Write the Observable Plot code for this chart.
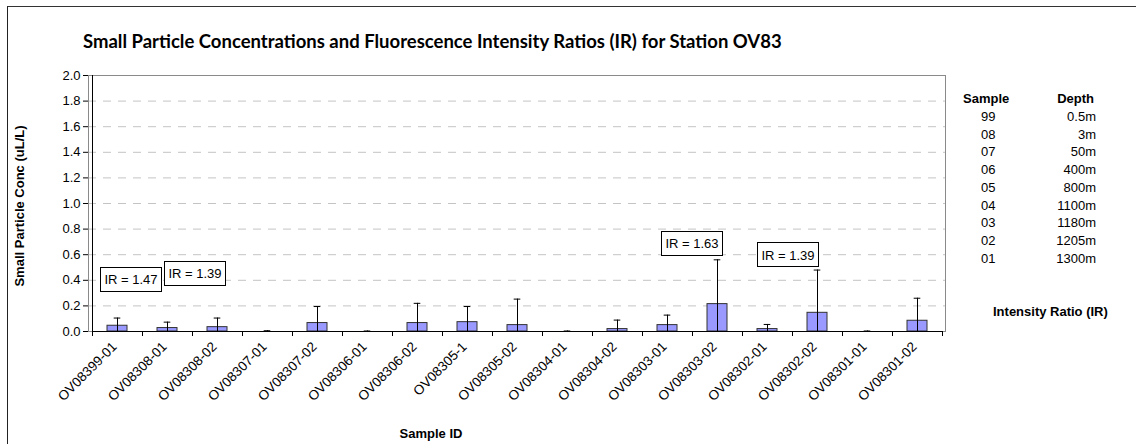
<!DOCTYPE html>
<html><head><meta charset="utf-8">
<script src="https://cdn.jsdelivr.net/npm/d3@7"></script>
<script src="https://cdn.jsdelivr.net/npm/@observablehq/plot@0.6"></script>
<style>
body{margin:0;background:#fff;font-family:"Liberation Sans",Arial,sans-serif;color:#000;}
#wrap{position:relative;width:1136px;height:444px;overflow:hidden;background:#fff;}
#wrap svg{position:absolute;left:0;top:0;}
.abs{position:absolute;white-space:nowrap;line-height:1;}
#frame{position:absolute;left:7px;top:6px;width:1200px;height:600px;border-left:1.5px solid #222;border-top:1.5px solid #333;}
</style></head><body><div id="wrap"><div id="frame"></div></div>
<script>
// ---- data ----
const samples = ["OV08399-01","OV08308-01","OV08308-02","OV08307-01","OV08307-02","OV08306-01","OV08306-02","OV08305-1","OV08305-02","OV08304-01","OV08304-02","OV08303-01","OV08303-02","OV08302-01","OV08302-02","OV08301-01","OV08301-02"];
const conc   = [0.045,0.027,0.034,0.000,0.066,0.000,0.066,0.073,0.050,0.000,0.019,0.050,0.214,0.019,0.146,0.000,0.084];
const errs   = [0.060,0.046,0.071,0.006,0.129,0.004,0.154,0.122,0.203,0.004,0.070,0.078,0.346,0.036,0.334,0.004,0.176];
const yTicks = [0,0.2,0.4,0.6,0.8,1.0,1.2,1.4,1.6,1.8,2.0];
const irSamples = ["OV08399-01","OV08308-01","OV08303-02","OV08302-02"];
const irValues  = [1.47,1.39,1.63,1.39];
const irLevels  = [0.40,0.446,0.685,0.594];
const legendCodes  = ["99","08","07","06","05","04","03","02","01"];
const legendDepths = ["0.5m","3m","50m","400m","800m","1100m","1180m","1205m","1300m"];
const titleText = "Small Particle Concentrations and Fluorescence Intensity Ratios (IR) for Station OV83";
const yTitle = "Small Particle Conc  (uL/L)";
const xTitle = "Sample ID";

const data = samples.map((s,i)=>({sample:s, conc:conc[i], err:errs[i]}));
const irOffsets = [14, 28, -25, -29];
const irData = irSamples.map((s,i)=>({sample:s, label:"IR = "+irValues[i].toFixed(2), level:irLevels[i], off:irOffsets[i]}));

const FONT = "'Liberation Sans', Arial, sans-serif";
const cnv = document.createElement("canvas").getContext("2d");

function getScales(a,b){ return (a && typeof a.x === "function") ? a : b; }

function decor(index, scales, values, dims){
  const sc = getScales(index, scales) || scales;
  const {x, y} = sc;
  const bw = x(samples[1]) - x(samples[0]);
  const g = d3.create("svg:g").attr("stroke","#000").attr("stroke-width",1).attr("shape-rendering","crispEdges");
  const y0 = y(0), yTop = y(2);
  const xl = x(samples[0]);
  const xr = x(samples[samples.length-1]) + bw;
  g.append("line").attr("x1",xl).attr("x2",xl).attr("y1",yTop).attr("y2",y0);
  g.append("line").attr("x1",xl).attr("x2",xr).attr("y1",y0).attr("y2",y0);
  for(let i=0;i<=samples.length;i++){
    const bx = i<samples.length ? x(samples[i]) : xr;
    g.append("line").attr("x1",bx).attr("x2",bx).attr("y1",y0).attr("y2",y0+5);
  }
  return g.node();
}

function irBoxes(index, scales, values, dims){
  const sc = getScales(index, scales) || scales;
  const {x, y} = sc;
  const bw = x(samples[1]) - x(samples[0]);
  const g = d3.create("svg:g");
  cnv.font = "13px " + FONT;
  for(const d of irData){
    const cx = x(d.sample) + bw/2 + d.off;
    const cy = y(d.level);
    const w = cnv.measureText(d.label).width + 8;
    const h = 24;
    g.append("rect").attr("x",cx-w/2).attr("y",cy-h/2).attr("width",w).attr("height",h)
      .attr("fill","#fff").attr("stroke","#000").attr("stroke-width",1).attr("shape-rendering","crispEdges");
    g.append("text").attr("x",cx).attr("y",cy).attr("dy","0.35em").attr("text-anchor","middle")
      .attr("font-size",13).attr("font-family",FONT).attr("fill","#000").text(d.label);
  }
  return g.node();
}

const plot = Plot.plot({
  width: 1136, height: 444,
  marginLeft: 88, marginRight: 191, marginTop: 75, marginBottom: 113,
  style: {fontFamily: FONT, fontSize: "13px", color: "#000", background: "transparent", overflow: "visible"},
  x: {domain: samples, padding: 0, label: null},
  y: {domain: [0, 2], label: null},
  marks: [
    Plot.gridY(yTicks.filter(d => d > 0 && d < 2), {stroke: "#c4c4c4", strokeOpacity: 1, strokeDasharray: "8,7"}),
    Plot.frame({stroke: "#8a8a8a"}),
    Plot.barY(data.filter(d => d.conc > 0), {x: "sample", y: "conc", fill: "#9999ff", stroke: "#333", strokeWidth: 1, insetLeft: 15, insetRight: 15}),
    Plot.ruleX(data, {x: "sample", y1: d => Math.max(0, d.conc - d.err), y2: d => d.conc + d.err, stroke: "#000", strokeWidth: 1}),
    Plot.tickY(data, {x: "sample", y: d => d.conc + d.err, stroke: "#000", strokeWidth: 1, insetLeft: 21.7, insetRight: 21.7}),
    decor,
    Plot.axisY({ticks: yTicks, tickSize: 5, tickPadding: 3, tickFormat: d3.format(".1f"), fontSize: 13, label: null}),
    Plot.axisX({tickSize: 0, tickPadding: 13, dx: -3, tickRotate: -45, fontSize: 13.5, label: null}),
    irBoxes
  ]
});
const wrap = document.getElementById("wrap");
wrap.appendChild(plot);

function addText(txt, left, top, css){
  const el = document.createElement("div");
  el.className = "abs";
  el.textContent = txt;
  el.style.left = left + "px"; el.style.top = top + "px";
  Object.assign(el.style, css || {});
  wrap.appendChild(el);
  return el;
}
// title: fit to measured width
cnv.font = "bold 16px Lato";
const tw = cnv.measureText(titleText).width;
const tsize = 16 * 700 / tw;
addText(titleText, 83, 32, {fontFamily: "Lato, sans-serif", fontWeight: "bold", fontSize: tsize.toFixed(2) + "px"});

// y-axis title
addText(yTitle, 19, 206, {fontWeight: "bold", fontSize: "13px", transform: "translate(-50%,-50%) rotate(-90deg)"});
// x-axis title
addText(xTitle, 431, 433, {fontWeight: "bold", fontSize: "13px", transform: "translate(-50%,-50%)"});

// legend table
const rowH = 17.7;
addText("Sample", 963, 98, {fontWeight: "bold", fontSize: "13px", transform: "translateY(-50%)"});
addText("Depth", 1094, 98, {fontWeight: "bold", fontSize: "13px", transform: "translate(-100%,-50%)"});
legendCodes.forEach((c, i) => {
  const cy = 116 + rowH * i;
  addText(c, 981, cy, {fontSize: "13px", transform: "translateY(-50%)"});
  addText(legendDepths[i], 1096, cy, {fontSize: "13px", transform: "translate(-100%,-50%)"});
});
addText("Intensity Ratio (IR)", 993, 311, {fontWeight: "bold", fontSize: "13px", transform: "translateY(-50%)"});
</script>
</body></html>
